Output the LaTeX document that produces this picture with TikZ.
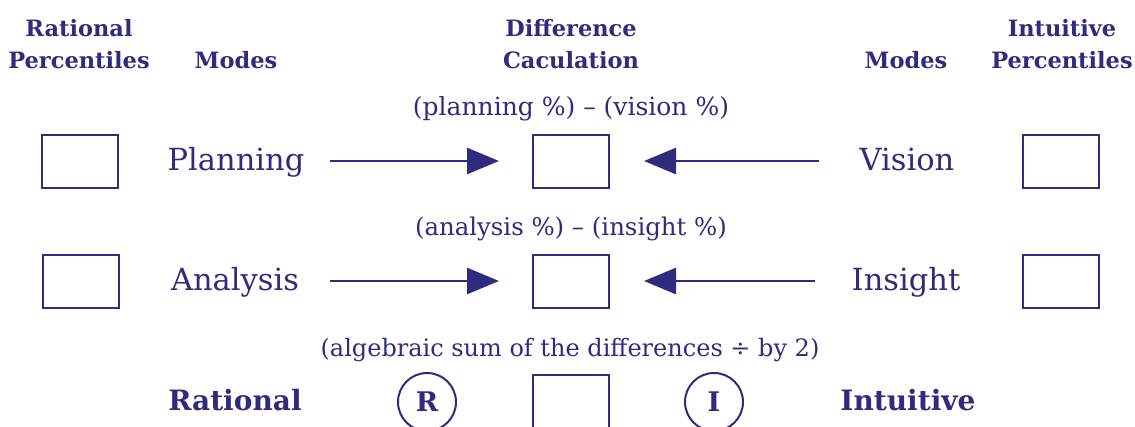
\documentclass[tikz,border=0pt]{standalone}
\usepackage{fontspec}
\setmainfont{DejaVu Serif}
\usetikzlibrary{arrows.meta,shapes.geometric}
\definecolor{ink}{HTML}{2F2B7F}
\begin{document}
\begin{tikzpicture}[x=1pt,y=-1pt,
  every node/.style={text=ink,inner sep=0pt,outer sep=0pt},
  head/.style={font=\fontsize{22.5}{27}\selectfont\bfseries,anchor=base},
  mode/.style={font=\fontsize{30.5}{36}\selectfont,anchor=base},
  calc/.style={font=\fontsize{#1}{29}\selectfont,anchor=base},
  big/.style={font=\fontsize{28}{33}\selectfont\bfseries,anchor=base},
  pbox/.style={draw=ink,line width=2pt,minimum width=76pt,minimum height=53pt},
  oval/.style={draw=ink,line width=2pt,ellipse,minimum width=58pt,minimum height=58pt,
    font=\fontsize{27}{31}\selectfont\bfseries},
  arr/.style={draw=ink,line width=2.8pt,-{Triangle[length=32pt,width=26pt]}}
]
\useasboundingbox (0,0) rectangle (1135,426);
% headers
\node[head] (rpa) at (79,36) {Rational};
\node[head] (rpb) at (79,68) {Percentiles};
\node[head] (lmodes) at (236,68) {Modes};
\node[head] (dca) at (571,36) {Difference};
\node[head] (dcb) at (571,68) {Caculation};
\node[head] (rmodes) at (906,68) {Modes};
\node[head] (ipa) at (1062,36) {Intuitive};
\node[head] (ipb) at (1062,68) {Percentiles};
% row 1
\node[calc=25] (c1) at (571,115) {(planning \%) – (vision \%)};
\node[pbox] (lb1) at (80,161) {};
\node[mode] (pl) at (236,170) {Planning};
\node[pbox] (cb1) at (571,161) {};
\node[mode] (vi) at (907,170) {Vision};
\node[pbox] (rb1) at (1061,161) {};
\draw[arr,shorten <=25.5pt,shorten >=34pt] (pl.east |- cb1.west) -- (cb1.west);
\draw[arr,shorten <=41pt,shorten >=35pt] (vi.west |- cb1.east) -- (cb1.east);
% row 2
\node[calc=24.4] (c2) at (571,235) {(analysis \%) – (insight \%)};
\node[pbox] (lb2) at (81,281) {};
\node[mode] (an) at (235,290) {Analysis};
\node[pbox] (cb2) at (571,281) {};
\node[mode] (in) at (906,290) {Insight};
\node[pbox] (rb2) at (1061,281) {};
\draw[arr,shorten <=31pt,shorten >=34pt] (an.east |- cb2.west) -- (cb2.west);
\draw[arr,shorten <=37pt,shorten >=35pt] (in.west |- cb2.east) -- (cb2.east);
% row 3
\node[calc=24] (c3) at (570,356) {(algebraic sum of the differences ÷ by 2)};
\node[big] (rat) at (235,410) {Rational};
\node[oval] (r) at (427,402) {R};
\node[pbox] (cb3) at (571,401.5) {};
\node[oval] (i) at (714,402) {I};
\node[big] (int) at (908,410) {Intuitive};
\end{tikzpicture}
\end{document}
